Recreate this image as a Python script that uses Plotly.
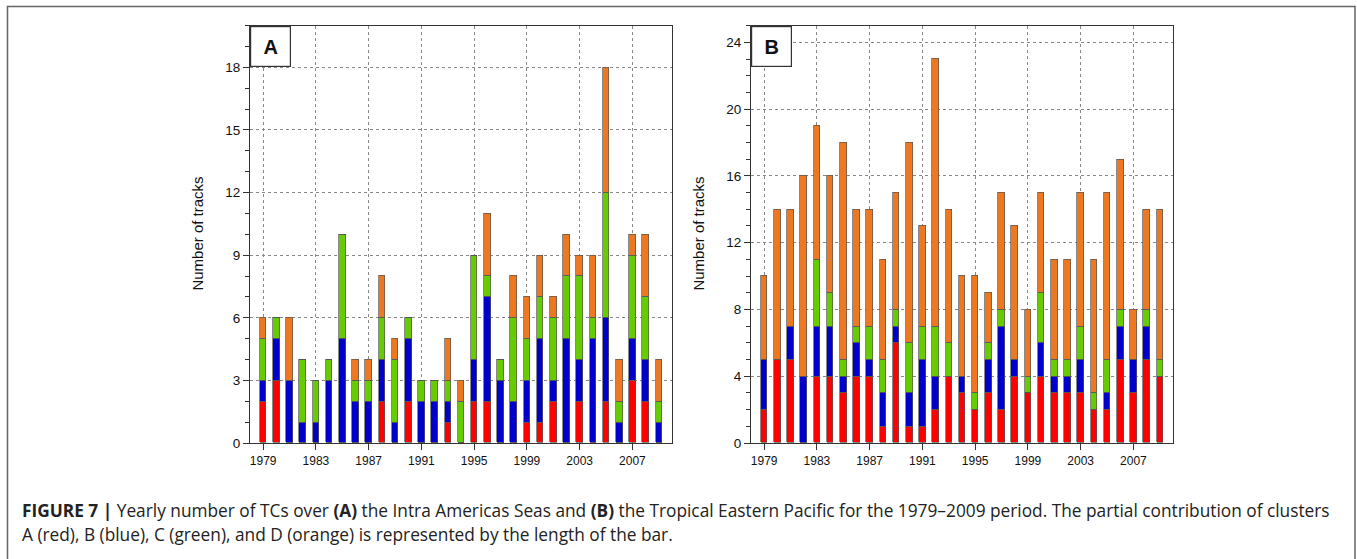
import plotly.graph_objects as go

years = list(range(1979, 2010))

# Panel A: Intra Americas Seas
a_red    = [2,3,0,0,0,0,0,0,0,2,0,2,0,0,1,0,2,2,0,0,1,1,2,0,2,0,2,0,3,2,0]
a_blue   = [1,2,3,1,1,3,5,2,2,2,1,3,2,2,1,0,2,5,3,2,2,4,1,5,2,5,4,1,2,2,1]
a_green  = [2,1,0,3,2,1,5,1,1,2,3,1,1,1,1,2,5,1,1,4,2,2,3,3,4,1,6,1,4,3,1]
a_orange = [1,0,3,0,0,0,0,1,1,2,1,0,0,0,2,1,0,3,0,2,2,2,1,2,1,3,6,2,1,3,2]

# Panel B: Tropical Eastern Pacific
b_red    = [2,5,5,0,4,4,3,4,4,1,6,1,1,2,4,3,2,3,2,4,3,4,3,3,3,2,2,5,3,5,4]
b_blue   = [3,0,2,4,3,3,1,2,1,2,1,2,4,2,0,1,0,2,5,1,0,2,1,1,2,0,1,2,2,2,0]
b_green  = [0,0,0,0,4,2,1,1,2,2,1,3,2,3,2,0,1,1,1,0,1,3,1,1,2,1,2,1,0,1,1]
b_orange = [5,9,7,12,8,7,13,7,7,6,7,12,6,16,8,6,7,3,7,8,4,6,6,6,8,8,10,9,3,6,9]

tick_years = list(range(1979, 2010, 4))
colors = ["#FF0000", "#0000CC", "#66CC00", "#EE7722"]
names = ["Cluster A", "Cluster B", "Cluster C", "Cluster D"]

fig = go.Figure()
for series, xa, ya in [((a_red, a_blue, a_green, a_orange), "x", "y"),
                       ((b_red, b_blue, b_green, b_orange), "x2", "y2")]:
    for vals, col, nm in zip(series, colors, names):
        fig.add_trace(go.Bar(x=years, y=vals, xaxis=xa, yaxis=ya, name=nm,
                             marker=dict(color=col, line=dict(color="#555555", width=0.7)),
                             width=0.5, showlegend=False))

W, H = 1357, 559
def px_x(p): return p / W
def px_y(p): return 1 - p / H

axis_common = dict(showline=True, linecolor="#333333", linewidth=1.2, mirror=True,
                   ticks="outside", tickcolor="#333333", ticklen=6, zeroline=False,
                   tickfont=dict(family="Liberation Sans, Arial", size=13.5, color="#111111"))

xa_common = dict(axis_common, range=[1978, 2010], tickvals=tick_years,
                 showgrid=True, gridcolor="#888888", griddash="dot", gridwidth=1,
                 tickfont=dict(family="Liberation Sans, Arial", size=12, color="#111111"))

fig.update_layout(
    width=W, height=H, margin=dict(l=0, r=0, t=0, b=0),
    paper_bgcolor="white", plot_bgcolor="white", barmode="stack", bargap=0,
    xaxis=dict(xa_common, domain=[px_x(250), px_x(672)], anchor="y"),
    yaxis=dict(axis_common, domain=[px_y(449.5), px_y(26)], anchor="x",
               range=[0, 20], tickvals=[0, 3, 6, 9, 12, 15, 18],
               showgrid=True, gridcolor="#888888", griddash="dot", gridwidth=1,
               minor=dict(dtick=1, ticklen=4, tickcolor="#333333", ticks="outside", showgrid=False)),
    xaxis2=dict(xa_common, domain=[px_x(751), px_x(1173)], anchor="y2"),
    yaxis2=dict(axis_common, domain=[px_y(449.5), px_y(26)], anchor="x2",
                range=[0, 25], tickvals=[0, 4, 8, 12, 16, 20, 24],
                showgrid=True, gridcolor="#888888", griddash="dot", gridwidth=1,
                minor=dict(dtick=1, ticklen=4, tickcolor="#333333", ticks="outside", showgrid=False)),
)

annots = []
# Panel labels
for xl, lab in [(250, "A"), (751, "B")]:
    annots.append(dict(x=px_x(xl), y=px_y(26), xref="paper", yref="paper", xanchor="left", yanchor="top",
                       text="<b>%s</b>" % lab, showarrow=False, width=37, height=37,
                       bgcolor="white", bordercolor="#333333", borderwidth=1.2, borderpad=1,
                       font=dict(family="Liberation Sans, Arial", size=20, color="#111111")))
# Y axis titles
for xt in (198, 699):
    annots.append(dict(x=px_x(xt), y=px_y(237), xref="paper", yref="paper", xanchor="center", yanchor="middle",
                       text="Number of tracks", textangle=-90, showarrow=False,
                       font=dict(family="Liberation Sans, Arial", size=15, color="#111111")))
# Caption
cap1 = ("<b>FIGURE 7 |</b> Yearly number of TCs over <b>(A)</b> the Intra Americas Seas and <b>(B)</b> "
        "the Tropical Eastern Pacific for the 1979\u20132009 period. The partial contribution of clusters")
cap2 = "A (red), B (blue), C (green), and D (orange) is represented by the length of the bar."
annots.append(dict(x=px_x(20), y=px_y(518), xref="paper", yref="paper", xanchor="left", yanchor="middle",
                   text=cap1, showarrow=False, align="left",
                   font=dict(family="Open Sans", size=17.3, color="#222222")))
annots.append(dict(x=px_x(20), y=px_y(542), xref="paper", yref="paper", xanchor="left", yanchor="middle",
                   text=cap2, showarrow=False, align="left",
                   font=dict(family="Open Sans", size=17.3, color="#222222")))
fig.update_layout(annotations=annots)

# Outer frame
fig.add_shape(type="rect", xref="paper", yref="paper", x0=px_x(7.5), x1=px_x(1355), y0=-0.05, y1=px_y(6.5),
              line=dict(color="#666666", width=1.5), fillcolor="rgba(0,0,0,0)", layer="above")

fig.write_html("out.html", config={"displayModeBar": False},
               post_script="document.body.style.margin='0';")
